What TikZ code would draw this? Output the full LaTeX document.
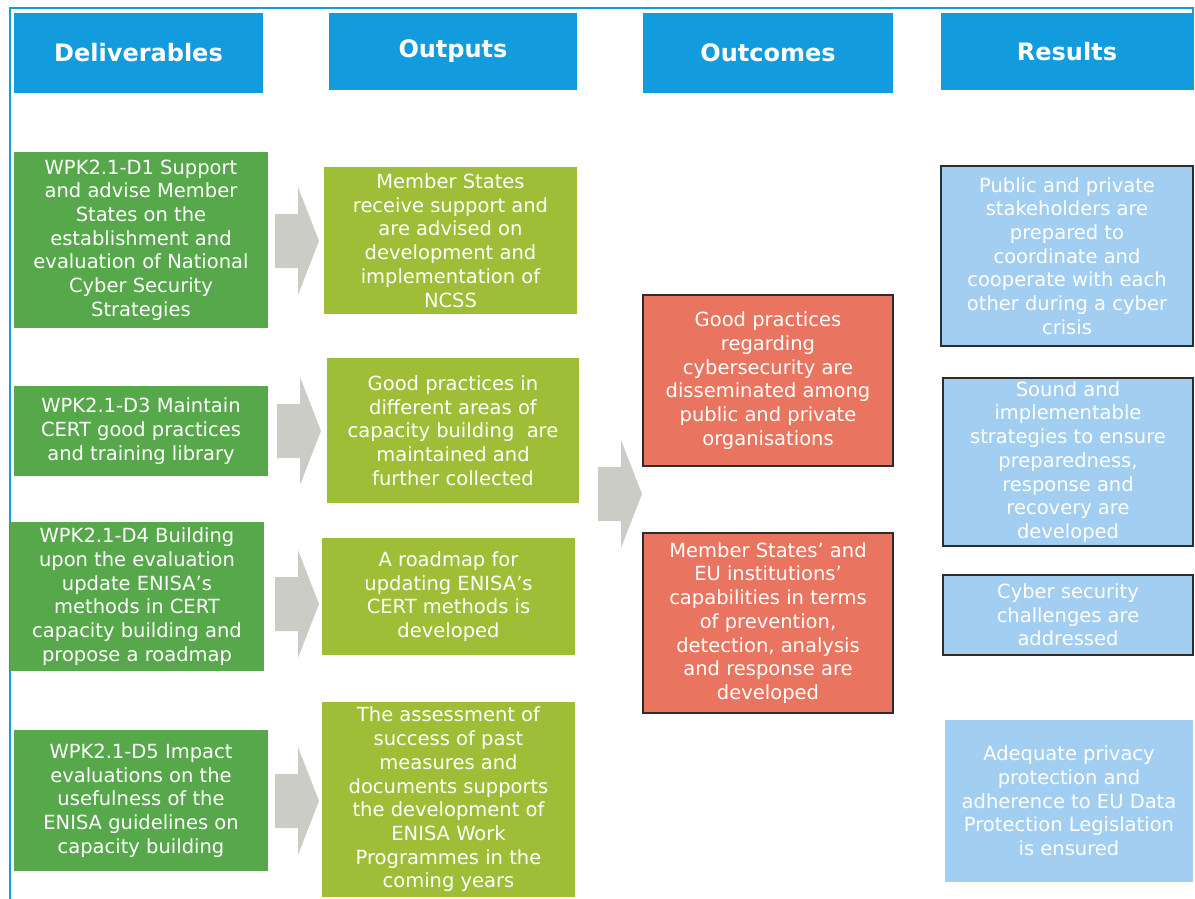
\documentclass[tikz,border=0pt]{standalone}
\usepackage{fontspec}
\setmainfont{DejaVu Sans}

\definecolor{headblue}{RGB}{18,156,221}
\definecolor{delgreen}{RGB}{86,168,75}
\definecolor{outlime}{RGB}{158,190,56}
\definecolor{outcoral}{RGB}{233,117,96}
\definecolor{respale}{RGB}{162,206,242}
\definecolor{arrowgray}{RGB}{204,204,198}
\definecolor{edgedark}{RGB}{45,45,45}

\tikzset{
  head/.style={fill=headblue, text=white, align=center, inner sep=0pt,
    font=\fontsize{24}{28}\selectfont\bfseries},
  box/.style={text=white, align=center, inner sep=0pt,
    font=\fontsize{19.5}{23.7}\selectfont},
  delbox/.style={box, fill=delgreen},
  outbox/.style={box, fill=outlime},
  comebox/.style={box, fill=outcoral, draw=edgedark, line width=1.6pt},
  resbox/.style={box, fill=respale, draw=edgedark, line width=1.6pt},
  pics/grayarrow/.style={code={
    \fill[arrowgray] (0,-27) -- (23,-27) -- (23,-54) -- (44,0) -- (23,54) -- (23,27) -- (0,27) -- cycle;
  }}
}

\begin{document}
\begin{tikzpicture}[x=1pt, y=-1pt]
  \useasboundingbox (0,0) rectangle (1195,899);
  % frame
  \draw[headblue, line width=2pt] (10,899) -- (10,8) -- (1193,8) -- (1193,90);

  % column heads
  \node[head, minimum width=249pt, minimum height=80pt] (hdel) at (138.5,53) {Deliverables};
  \node[head, minimum width=248pt, minimum height=77pt] (hout) at (453,51.5) {Outputs};
  \node[head, minimum width=250pt, minimum height=80pt] (hcome) at (768,53) {Outcomes};
  \node[head, minimum width=252pt, minimum height=77pt] (hres) at (1067,51.5) {Results};

  % deliverables
  \node[delbox, minimum width=254pt, minimum height=176pt] (d1) at (141,240)
    {WPK2.1-D1 Support\\and advise Member\\States on the\\establishment and\\evaluation of National\\Cyber Security\\Strategies};
  \node[delbox, minimum width=254pt, minimum height=90pt] (d3) at (141,431)
    {WPK2.1-D3 Maintain\\CERT good practices\\and training library};
  \node[delbox, minimum width=254pt, minimum height=149pt] (d4) at (137,596.5)
    {WPK2.1-D4 Building\\upon the evaluation\\update ENISA’s\\methods in CERT\\capacity building and\\propose a roadmap};
  \node[delbox, minimum width=254pt, minimum height=141pt] (d5) at (141,800.5)
    {WPK2.1-D5 Impact\\evaluations on the\\usefulness of the\\ENISA guidelines on\\capacity building};

  % outputs
  \node[outbox, minimum width=253pt, minimum height=147pt] (o1) at (450.5,240.5)
    {Member States\\receive support and\\are advised on\\development and\\implementation of\\NCSS};
  \node[outbox, minimum width=252pt, minimum height=145pt] (o2) at (453,430.5)
    {Good practices in\\different areas of\\capacity building\ \ are\\maintained and\\further collected};
  \node[outbox, minimum width=253pt, minimum height=117pt] (o3) at (448.5,596.5)
    {A roadmap for\\updating ENISA’s\\CERT methods is\\developed};
  \node[outbox, minimum width=253pt, minimum height=195pt] (o4) at (448.5,799.5)
    {The assessment of\\success of past\\measures and\\documents supports\\the development of\\ENISA Work\\Programmes in the\\coming years};

  % outcomes
  \node[comebox, minimum width=250pt, minimum height=171pt] (c1) at (768,380.5)
    {Good practices\\regarding\\cybersecurity are\\disseminated among\\public and private\\organisations};
  \node[comebox, minimum width=250pt, minimum height=180pt] (c2) at (768,623)
    {Member States’ and\\EU institutions’\\capabilities in terms\\of prevention,\\detection, analysis\\and response are\\developed};

  % results
  \node[resbox, minimum width=252pt, minimum height=180pt] (r1) at (1067,256)
    {Public and private\\stakeholders are\\prepared to\\coordinate and\\cooperate with each\\other during a cyber\\crisis};
  \node[resbox, minimum width=250pt, minimum height=168pt] (r2) at (1068,462)
    {Sound and\\implementable\\strategies to ensure\\preparedness,\\response and\\recovery are\\developed};
  \node[resbox, minimum width=250pt, minimum height=80pt] (r3) at (1068,615)
    {Cyber security\\challenges are\\addressed};
  \node[box, fill=respale, minimum width=248pt, minimum height=162pt] (r4) at (1069,801)
    {Adequate privacy\\protection and\\adherence to EU Data\\Protection Legislation\\is ensured};

  % gray block arrows
  \pic at (275,241) {grayarrow};
  \pic at (277,431) {grayarrow};
  \pic at (275,604) {grayarrow};
  \pic at (275,801) {grayarrow};
  \pic at (598,494) {grayarrow};
\end{tikzpicture}
\end{document}
